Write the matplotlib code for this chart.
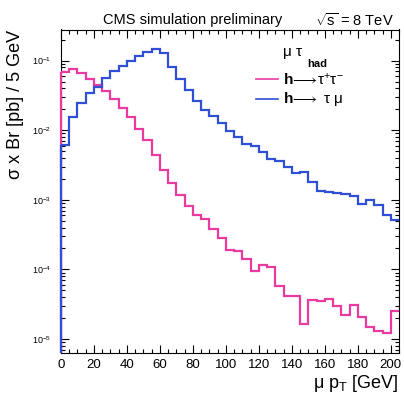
import numpy as np
import matplotlib
matplotlib.use('Agg')
import matplotlib.pyplot as plt
from matplotlib.ticker import MultipleLocator, LogLocator, NullFormatter

plt.rcParams['font.family'] = ['Liberation Sans', 'DejaVu Sans']
plt.rcParams['mathtext.fontset'] = 'custom'
plt.rcParams['mathtext.rm'] = 'Liberation Sans'
plt.rcParams['mathtext.it'] = 'Liberation Sans:italic'
plt.rcParams['mathtext.bf'] = 'Liberation Sans:bold'

# 5 GeV bins, 0 - 205 GeV
bin_edges = np.arange(0, 210, 5)

# h -> tau tau (magenta)
h_tautau = [0.0689, 0.0753, 0.0655, 0.0541, 0.0448, 0.0361, 0.0277, 0.0209, 0.0156, 0.0105,
            0.00715, 0.00443, 0.00270, 0.00174, 0.00116, 0.000826, 0.000610, 0.000522, 0.000387, 0.000282,
            0.000191, 0.000181, 0.000142, 0.0000957, 0.000117, 0.000110, 0.0000570, 0.0000410, 0.0000410, 0.0000164,
            0.0000367, 0.0000355, 0.0000375, 0.0000294, 0.0000223, 0.0000310, 0.0000206, 0.0000149, 0.0000129, 0.0000122,
            0.0000250]

# h -> tau mu (blue)
h_taumu = [0.0062, 0.0157, 0.025, 0.0345, 0.042, 0.057, 0.070, 0.084, 0.099, 0.117,
           0.135, 0.146, 0.128, 0.082, 0.0546, 0.0379, 0.0264, 0.0196, 0.0162, 0.0126,
           0.0098, 0.0081, 0.0063, 0.0060, 0.0048, 0.0038, 0.0036, 0.0030, 0.0024, 0.0025,
           0.00183, 0.00136, 0.00129, 0.00125, 0.00122, 0.00114, 0.00088, 0.00101, 0.00085, 0.00060,
           0.00052]

pink = '#e83a9f'
blue = '#2f4fd6'
ymin, ymax = 6.3e-6, 0.28

fig = plt.figure(figsize=(4.04, 3.95), dpi=100)
ax = fig.add_axes([61/404, 1 - 353/395, 338/404, 323.5/395])

for vals, col in [(h_tautau, pink), (h_taumu, blue)]:
    ax.stairs(vals, bin_edges, color=col, lw=1.6, baseline=None, zorder=3)
    ax.vlines(bin_edges[0], ymin, vals[0], color=col, lw=1.6, zorder=3, clip_on=False)

ax.set_yscale('log')
ax.set_xlim(0, 205)
ax.set_ylim(ymin, ymax)

ax.xaxis.set_major_locator(MultipleLocator(20))
ax.xaxis.set_minor_locator(MultipleLocator(5))
ax.yaxis.set_major_locator(LogLocator(base=10))
ax.yaxis.set_minor_locator(LogLocator(base=10, subs=np.arange(2, 10)))
ax.yaxis.set_minor_formatter(NullFormatter())

ax.tick_params(which='both', direction='in', top=True, right=True, width=0.8)
ax.tick_params(which='major', length=6)
ax.tick_params(which='minor', length=3)
ax.tick_params(axis='x', labelsize=9.5, pad=4)
ax.tick_params(axis='y', labelsize=6.5, pad=7)
for s in ax.spines.values():
    s.set_linewidth(0.8)

ax.set_ylabel('σ x Br [pb] / 5 GeV', fontsize=13, loc='top', labelpad=6)
ax.set_xlabel(r'$\mathrm{\mu}\ \mathrm{p}_{\mathrm{T}}$ [GeV]', fontsize=13, loc='right', labelpad=2)

# legend
ax.text(0.657, 0.930, 'μ τ', transform=ax.transAxes, fontsize=11, va='center')
ax.text(0.728, 0.893, 'had', transform=ax.transAxes, fontsize=8, fontweight='bold', va='center')
ax.plot([0.577, 0.642], [0.846, 0.846], color=pink, lw=1.2, transform=ax.transAxes)
ax.plot([0.577, 0.642], [0.784, 0.784], color=blue, lw=1.2, transform=ax.transAxes)
ax.text(0.657, 0.846, r'$\mathbf{h}\!\longrightarrow\!\mathrm{\tau}^{+}\mathrm{\tau}^{-}$',
        transform=ax.transAxes, fontsize=11, va='center')
ax.text(0.657, 0.784, r'$\mathbf{h}\!\longrightarrow\ \mathrm{\tau}\ \mathrm{\mu}$',
        transform=ax.transAxes, fontsize=11, va='center')

fig.text(103/404, 1 - 20/395, 'CMS simulation preliminary', fontsize=10.5, va='center')
fig.text(315/404, 1 - 20/395, r'$\sqrt{\mathrm{s}}$ = 8 TeV', fontsize=10.5, va='center')

fig.savefig('out.png', dpi=100, facecolor='white')
